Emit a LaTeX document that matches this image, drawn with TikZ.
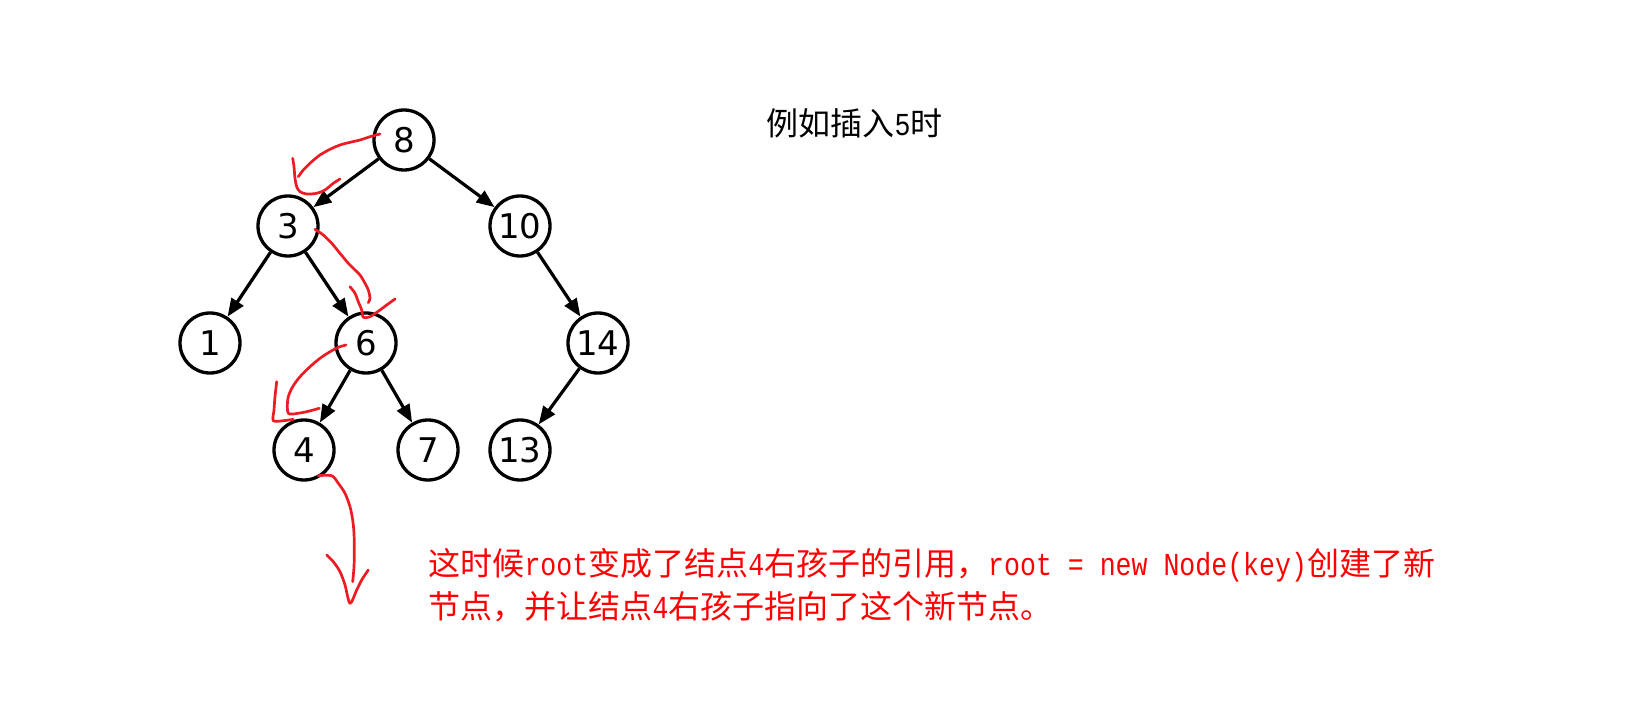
\documentclass[tikz,border=0pt]{standalone}
\usepackage{fontspec}
\usetikzlibrary{arrows.meta}
\newfontfamily\cjk{Noto Sans CJK SC}
\newfontfamily\halfmono[FakeStretch=0.83]{Liberation Mono}
\newfontfamily\keyfont{DejaVu Sans}
\newcommand{\asc}[1]{{\halfmono #1}}
\definecolor{penred}{RGB}{237,28,36}

\begin{document}
\begin{tikzpicture}[x=1pt,y=-1pt]
            \tikzset{
	level 1/.style={sibling distance=232pt, level distance=86pt},
	level 2/.style={sibling distance=156pt, level distance=117pt},
	level 3/.style={sibling distance=124pt, level distance=107pt},
	key/.style={circle, draw, line width=3.3pt, minimum size=60pt, inner sep=0pt, font=\keyfont\fontsize{34}{40}\selectfont},
	every child node/.style={key},
	edge from parent/.style={draw, -{Triangle[length=18pt,width=14pt]}, line width=3.2pt},
	note/.style={anchor=base west, font=\cjk\fontsize{32}{42}\selectfont},
	scribble/.style={draw=penred, line width=2.7pt, line cap=round, line join=round}
}
\useasboundingbox (0,0) rectangle (1628,703);

\node[key] (n8) at (404,140) {8}
	child {node (n3) {3}
		child {node (n1) {1}
		}
		child {node (n6) {6}
			child {node (n4) {4}
			}
			child {node (n7) {7}
			}
		}
	}
	child {node (n10) {10}
		child[missing]
		child {node (n14) {14}
			child {node[xshift=-16pt] (n13) {13}
			}
			child[missing]
		}
	};

\node[note] (title) at (763,136) {例如插入\asc{5}时};
\node[note, text=red] (line1) at (425,575) {这时候\asc{root}变成了结点\asc{4}右孩子的引用，\asc{root = new Node(key)}创建了新};
\node[note, text=red] (line2) at (425,618) {节点，并让结点\asc{4}右孩子指向了这个新节点。};

% pen marks: 8 -> 3
\draw[scribble] plot[smooth] coordinates {(380,134) (370,136.7) (360,140) (350,142.3) (340,145) (330,149.3) (320,155) (311.7,161.7) (303.3,170) (298.3,176.7)};
\draw[scribble] plot[smooth] coordinates {(292.7,158.3) (294,166.7) (295,178.3) (296.7,186.7) (300,191.7) (306.7,194) (316.7,193.3) (325,190) (333.3,183.3) (340,179)};
% pen marks: 3 -> 6
\draw[scribble] plot[smooth] coordinates {(315,229.3) (323.3,235) (331.7,243.3) (340,253.3) (348.3,263.3) (355,270) (360,275) (365,283.3) (368.3,290) (370,298.3) (368.3,302.7)};
\draw[scribble] plot[smooth] coordinates {(350,286.7) (355,293.3) (358.3,301.7) (361.7,310) (363.3,317.3) (370,316.7) (380,310) (386.7,305) (395,299)};
% pen marks: 6 -> 4
\draw[scribble] plot[smooth] coordinates {(346,345) (338.3,347.3) (330,351.7) (320,358.3) (310,366.7) (300,376.7) (292.7,386.7) (288.3,396.7) (287.3,406.7) (288.3,413.3) (293.3,414) (306.7,411.7) (319.3,408.3)};
\draw[scribble] plot[smooth] coordinates {(276.7,381.7) (275,396.7) (274,410) (273.3,420.7) (283.3,420.7) (293.3,419.3)};
% pen marks: right child of 4
\draw[scribble] plot[smooth] coordinates {(318.3,475.7) (331.7,475.7) (338.3,483.3) (345,493.3) (350,506.7) (352.7,520) (354,533.3) (354.3,550) (354,566.7) (352.7,581.7)};
\draw[scribble] plot[smooth] coordinates {(326.7,555) (333.3,561.7) (340,571.7) (345,585) (350,603.3) (356.7,590) (361.7,580) (368.3,570)};
        \end{tikzpicture}
\end{document}
